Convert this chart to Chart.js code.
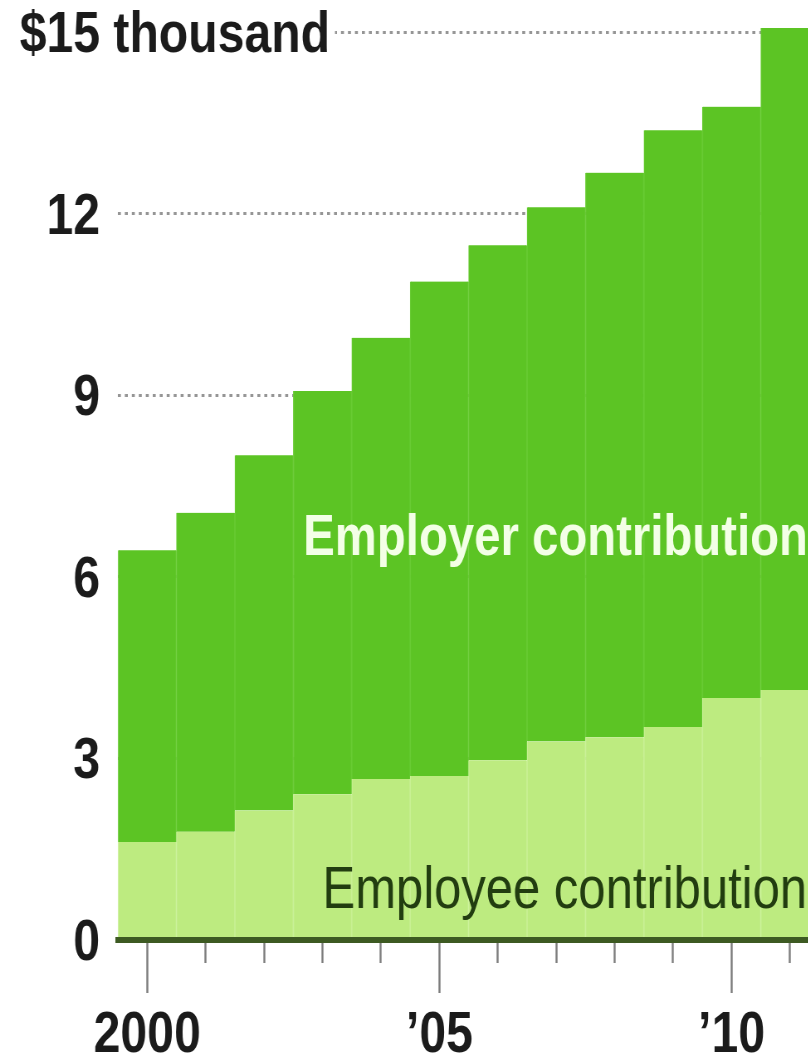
<!DOCTYPE html>
<html>
  <head>
    <meta charset="utf-8" />
    <title>Health premiums</title>
    <script src="https://cdn.jsdelivr.net/npm/chart.js@4.4.1/dist/chart.umd.min.js"></script>
    <style>
      html, body { margin: 0; padding: 0; overflow: hidden; background: #fff; }
      /* narrow type: the whole drawing is squeezed sideways */
      #wrap { transform: scaleX(0.83); transform-origin: 0 0; }
      canvas { display: block; }
    </style>
  </head>
  <body>
    <div id="wrap"><canvas id="myChart" width="987" height="1070"></canvas></div>
    <script>
      // average annual family premium, $ thousand
      const years = ["2000", "2001", "2002", "2003", "2004", "2005", "2006", "2007", "2008", "2009", "2010", "2011"];
      const employee = [1.62, 1.79, 2.14, 2.41, 2.66, 2.71, 2.97, 3.28, 3.35, 3.52, 4.0, 4.13];
      const employer = [4.82, 5.27, 5.87, 6.66, 7.29, 8.17, 8.51, 8.83, 9.33, 9.86, 9.77, 10.94];
      const yTicks = [0, 3, 6, 9, 12, 15];
      const yTickLabels = ["0", "3", "6", "9", "12", "$15"];
      const xTickLabels = { 0: "2000", 5: "\u201905", 10: "\u201910" };

      const sx = 0.83; // horizontal squeeze of #wrap
      const family = "'Liberation Sans', Arial, sans-serif";
      const ink = "#1b1b1b";

      // text labels sitting inside the areas
      const notes = [
        { text: "Employer contribution", x: 2.67, y: 6.36, color: "#f3ffe6", size: 57, weight: "bold" },
        { text: "Employee contribution", x: 3.0, y: 0.53, color: "#223d10", size: 59, weight: "normal" },
      ];

      const labelsPlugin = {
        id: "labels",
        afterDraw(chart) {
          const ctx = chart.ctx;
          const xs = chart.scales.x;
          const ys = chart.scales.y;
          ctx.save();
          // " thousand" after the top tick label
          ctx.font = "bold 58px " + family;
          const word = " thousand";
          const x0 = ys.right - 18 / sx;
          const py = ys.getPixelForValue(15);
          const w = ctx.measureText(word).width;
          ctx.fillStyle = "#fff";
          ctx.fillRect(x0, py - 5, w + 6, 10);
          ctx.fillStyle = ink;
          ctx.textAlign = "left";
          ctx.textBaseline = "middle";
          ctx.fillText(word, x0, py + 4);

          ctx.textBaseline = "alphabetic";
          notes.forEach((n) => {
            ctx.font = n.weight + " " + n.size + "px " + family;
            ctx.fillStyle = n.color;
            ctx.fillText(n.text, xs.getPixelForValue(n.x), ys.getPixelForValue(n.y));
          });
          ctx.restore();
        },
      };

      const data = {
        labels: years,
        datasets: [
          {
            label: "Employee contribution",
            data: employee,
            backgroundColor: "#bdeb80",
            borderColor: "#c8f094",
            borderWidth: { left: 1.2, right: 1.2, top: 0, bottom: 0 },
            borderSkipped: false,
            barPercentage: 1,
            categoryPercentage: 1,
          },
          {
            label: "Employer contribution",
            data: employer,
            backgroundColor: "#5cc424",
            borderColor: "#68cb33",
            borderWidth: { left: 1.2, right: 1.2, top: 0, bottom: 0 },
            borderSkipped: false,
            barPercentage: 1,
            categoryPercentage: 1,
          },
        ],
      };

      const config = {
        type: "bar",
        data: data,
        options: {
          responsive: false,
          animation: false,
          layout: { padding: { top: 2, left: 0, right: 0, bottom: 0 } },
          plugins: {
            legend: { display: false },
            tooltip: { enabled: false },
          },
          scales: {
            x: {
              stacked: true,
              afterFit: (scale) => {
                scale.height = 130;
                scale.paddingLeft = 0;
                scale.paddingRight = 0;
              },
              border: { display: true, color: "#3d5a22", width: 6, z: 1 },
              grid: {
                offset: false,
                drawOnChartArea: false,
                drawTicks: true,
                tickLength: 53,
                tickWidth: 2.4,
                tickColor: "#7d7d7d",
                tickBorderDash: (ctx) => (ctx.index % 5 === 0 ? [] : [20, 100]),
              },
              ticks: {
                autoSkip: false,
                maxRotation: 0,
                padding: 8,
                color: ink,
                font: { family: family, size: 58, weight: "bold" },
                callback: (v, i) => xTickLabels[i] || "",
              },
            },
            y: {
              stacked: true,
              min: 0,
              max: 15.5,
              afterBuildTicks: (scale) => {
                scale.ticks = yTicks.map((v) => ({ value: v }));
              },
              afterFit: (scale) => {
                scale.width = 118 / sx;
                scale.paddingTop = 0;
                scale.paddingBottom = 0;
              },
              border: { display: false, dash: [3.6, 4.8] },
              grid: {
                drawTicks: false,
                color: "#959595",
                lineWidth: 3,
              },
              ticks: {
                padding: 18 / sx,
                labelOffset: 4,
                color: ink,
                font: { family: family, size: 58, weight: "bold" },
                callback: (v) => yTickLabels[yTicks.indexOf(v)],
              },
            },
          },
        },
        plugins: [labelsPlugin],
      };

      const ctx = document.getElementById("myChart");
      const myChart = new Chart(ctx, config);
    </script>
  </body>
</html>
